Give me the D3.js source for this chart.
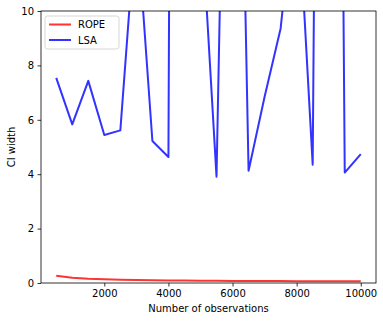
<!DOCTYPE html>
<html>
<head>
<meta charset="utf-8">
<script src="https://cdn.jsdelivr.net/npm/d3@7"></script>
<style>
  body { margin: 0; background: #fff; }
  text { font-family: "DejaVu Sans", sans-serif; }
</style>
</head>
<body>
<svg id="ci_graph"></svg>
<script>
// number of observations
const observations = [500, 1000, 1500, 2000, 2500, 3000, 3500, 4000, 4500, 5000,
                      5500, 6000, 6500, 7000, 7500, 8000, 8500, 9000, 9500, 10000];
const rope_width = [0.27, 0.19, 0.155, 0.135, 0.12, 0.11, 0.10, 0.095, 0.09, 0.085,
                    0.08, 0.078, 0.075, 0.072, 0.07, 0.067, 0.065, 0.064, 0.062, 0.06];
const lsa_width = [7.54, 5.83, 7.43, 5.44, 5.61, 13.5, 5.22, 4.63, 140, 14,
                   3.91, 34, 4.13, 6.85, 9.36, 15, 4.35, 80, 4.06, 4.74];
const x_ticks = [2000, 4000, 6000, 8000, 10000];
const y_ticks = [0, 2, 4, 6, 8, 10];
const series = [
    {name: "ROPE", values: rope_width, color: "rgb(255,51,51)"},
    {name: "LSA", values: lsa_width, color: "rgb(51,51,255)"}
];

const svg_size = {width: 383, height: 321};
const plot_margin = {top: 11, right: 7, bottom: 38, left: 41};
const plot_width = svg_size.width - plot_margin.left - plot_margin.right;
const plot_height = svg_size.height - plot_margin.top - plot_margin.bottom;

const svg = d3.select("#ci_graph")
    .attr("width", svg_size.width)
    .attr("height", svg_size.height);
const plot = svg.append("g")
    .attr("transform", `translate(${plot_margin.left},${plot_margin.top})`);

const x = d3.scaleLinear().domain([25, 10475]).range([0, plot_width]);
const y = d3.scaleLinear().domain([0, 10]).range([plot_height, 0]);

plot.append("clipPath").attr("id", "clip")
    .append("rect").attr("width", plot_width).attr("height", plot_height);

const line = d3.line()
    .x((d, i) => x(observations[i]))
    .y(d => y(d));

plot.append("g").attr("clip-path", "url(#clip)")
    .selectAll("path")
    .data(series)
    .enter()
    .append("path")
    .attr("fill", "none")
    .attr("stroke", d => d.color)
    .attr("stroke-width", 2)
    .attr("stroke-linejoin", "round")
    .attr("d", d => line(d.values));

const xAxis = plot.append("g")
    .attr("transform", `translate(0,${plot_height})`)
    .call(d3.axisBottom(x).tickValues(x_ticks).tickSize(3.5).tickPadding(3.5).tickFormat(d3.format("d")));
const yAxis = plot.append("g")
    .call(d3.axisLeft(y).tickValues(y_ticks).tickSize(3.5).tickPadding(3.5));
[xAxis, yAxis].forEach(a => {
    a.select(".domain").remove();
    a.selectAll("line").attr("stroke", "#000").attr("stroke-width", 0.8);
    a.selectAll("text").attr("font-size", 10).attr("fill", "#000")
        .attr("font-family", "DejaVu Sans, sans-serif");
});

plot.append("rect")
    .attr("width", plot_width)
    .attr("height", plot_height)
    .attr("fill", "none")
    .attr("stroke", "#000")
    .attr("stroke-width", 0.8);

plot.append("text")
    .attr("x", plot_width / 2)
    .attr("y", plot_height + 29)
    .attr("text-anchor", "middle")
    .attr("font-size", 10)
    .text("Number of observations");
plot.append("text")
    .attr("transform", "rotate(-90)")
    .attr("x", -plot_height / 2)
    .attr("y", -26)
    .attr("text-anchor", "middle")
    .attr("font-size", 10)
    .text("CI width");

// legend
const legend = svg.append("g").attr("transform", "translate(45,16)");
legend.append("rect")
    .attr("width", 74)
    .attr("height", 33)
    .attr("rx", 2.5)
    .attr("fill", "#fff")
    .attr("fill-opacity", 0.8)
    .attr("stroke", "#ccc")
    .attr("stroke-width", 0.8);
const items = legend.selectAll("g.item")
    .data(series)
    .enter()
    .append("g")
    .attr("transform", (d, i) => `translate(0,${8.5 + i * 15.5})`);
items.append("line")
    .attr("x1", 4).attr("x2", 26)
    .attr("stroke", d => d.color)
    .attr("stroke-width", 2);
items.append("text")
    .attr("x", 33)
    .attr("dy", "0.35em")
    .attr("font-size", 10)
    .text(d => d.name);
</script>
</body>
</html>
